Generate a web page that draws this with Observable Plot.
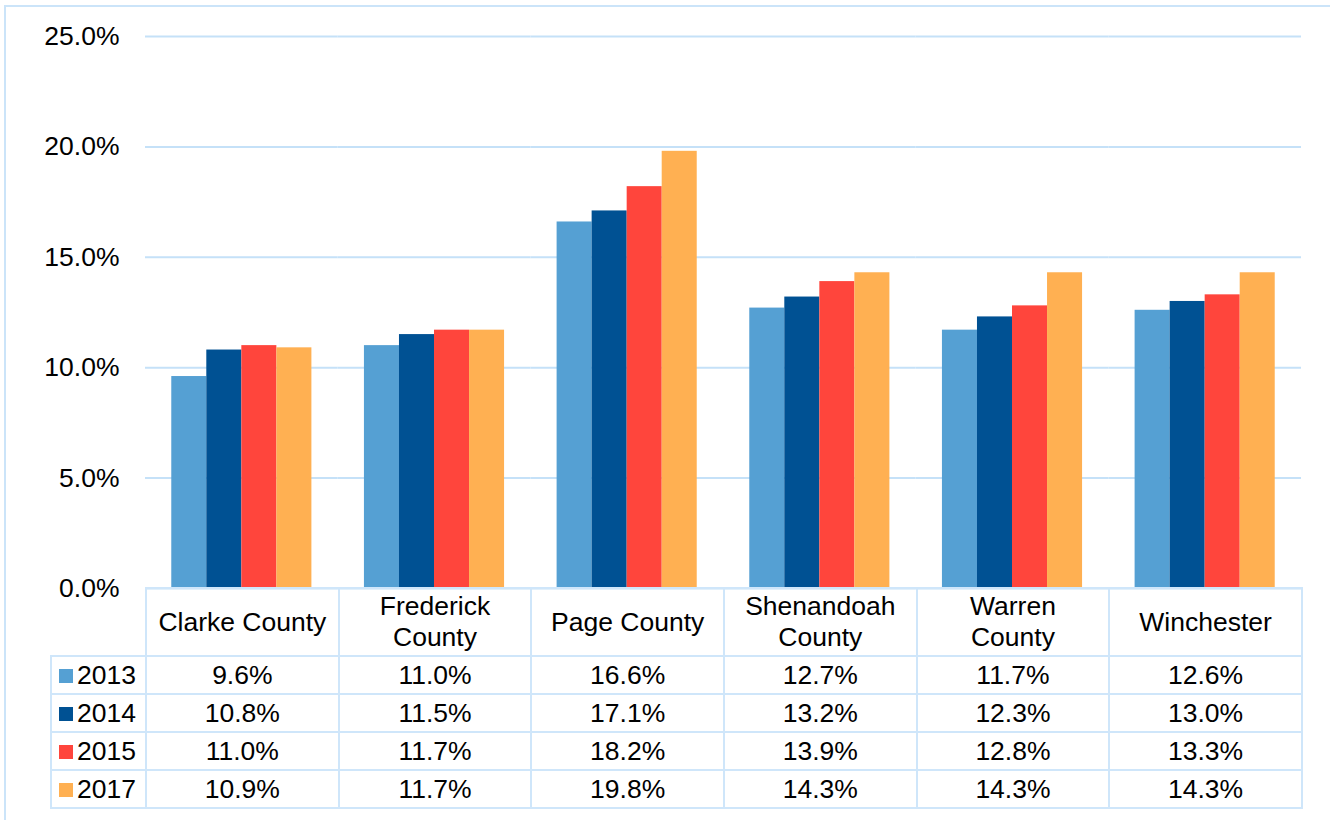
<!DOCTYPE html>
<html>
<head>
<meta charset="utf-8">
<script src="https://cdn.jsdelivr.net/npm/d3@7"></script>
<script src="https://cdn.jsdelivr.net/npm/@observablehq/plot@0.6"></script>
<style>
  html, body { margin: 0; padding: 0; background: #fff; }
  #wrap { position: relative; width: 1330px; height: 820px; overflow: hidden; font-family: "Liberation Sans", Arial, sans-serif; }
  #frame { position: absolute; left: 4px; top: 5px; width: 1400px; height: 900px; border-left: 2px solid #cbe4f9; border-top: 2px solid #cbe4f9; }
  #chart { position: absolute; left: 0; top: 0; }
  #tbl { position: absolute; border-collapse: collapse; table-layout: fixed; font-size: 26.5px; color: #000; }
  #tbl td { border: 2px solid #cfe6fa; text-align: center; padding: 0; }
  #tbl td.corner { border-top: none; border-left: none; }
  #tbl td.leg { text-align: left; padding-left: 7px; white-space: nowrap; }
  #tbl .sw { display: inline-block; width: 14px; height: 14px; margin-right: 4px; vertical-align: 1px; }
  #tbl tr.head td { height: 66px; line-height: 31px; }
  #tbl tr.row td { height: 36px; line-height: 30px; }
</style>
</head>
<body>
<div id="wrap">
  <div id="frame"></div>
  <div id="chart"></div>
  <table id="tbl"></table>
</div>
<script>
const counties = ["Clarke County", "Frederick County", "Page County", "Shenandoah County", "Warren County", "Winchester"];
const countyLabels = [["Clarke County"], ["Frederick", "County"], ["Page County"], ["Shenandoah", "County"], ["Warren", "County"], ["Winchester"]];
const years = ["2013", "2014", "2015", "2017"];
const colors = ["#55a0d3", "#005193", "#ff453c", "#ffb052"];
const values2013 = [9.6, 11.0, 16.6, 12.7, 11.7, 12.6];
const values2014 = [10.8, 11.5, 17.1, 13.2, 12.3, 13.0];
const values2015 = [11.0, 11.7, 18.2, 13.9, 12.8, 13.3];
const values2017 = [10.9, 11.7, 19.8, 14.3, 14.3, 14.3];
const yTicks = [0, 5, 10, 15, 20, 25];

const series = [values2013, values2014, values2015, values2017];
const data = [];
years.forEach((yr, i) => counties.forEach((c, j) => data.push({county: c, year: yr, value: series[i][j]})));

const W = 1330, mLeft = 145, mRight = 29, mTop = 36, mBottom = 32, H = 620;
const zeroY = H - mBottom; // 588
const fmt = d => d.toFixed(1) + "%";

const chart = Plot.plot({
  width: W,
  height: H,
  marginLeft: mLeft,
  marginRight: mRight,
  marginTop: mTop,
  marginBottom: mBottom,
  style: {fontFamily: "'Liberation Sans', Arial, sans-serif", fontSize: "26px", color: "#000", background: "transparent"},
  fx: {domain: counties, padding: 0, round: false, axis: null},
  x: {domain: years, paddingInner: 0, paddingOuter: 0.75, round: false, axis: null},
  y: {domain: [0, 25], ticks: yTicks, tickFormat: fmt, tickSize: 0, tickPadding: 26, label: null},
  color: {domain: years, range: colors},
  marks: [
    Plot.gridY(yTicks, {stroke: "#c5e1f8", strokeOpacity: 1, strokeWidth: 2}),
    Plot.barY(data, {fx: "county", x: "year", y: "value", fill: "year"}),
    Plot.axisY({ticks: yTicks, tickFormat: fmt, tickSize: 0, tickPadding: 26, fontSize: 26.5, fill: "#000", label: null})
  ]
});
document.getElementById("chart").appendChild(chart);

// Data table aligned with the fx band scale
const fxScale = chart.scale("fx");
const bw = fxScale.bandwidth;
const left0 = fxScale.apply(counties[0]);
const legW = 95;
const tbl = document.getElementById("tbl");
tbl.style.left = (left0 - legW) + "px";
tbl.style.top = (zeroY - 1) + "px";
tbl.style.width = (legW + bw * counties.length) + "px";

const colgroup = document.createElement("colgroup");
const c0 = document.createElement("col"); c0.style.width = legW + "px"; colgroup.appendChild(c0);
counties.forEach(() => { const c = document.createElement("col"); c.style.width = bw + "px"; colgroup.appendChild(c); });
tbl.appendChild(colgroup);

const head = document.createElement("tr"); head.className = "head";
const corner = document.createElement("td"); corner.className = "corner"; head.appendChild(corner);
countyLabels.forEach(lines => { const td = document.createElement("td"); td.innerHTML = lines.join("<br>"); head.appendChild(td); });
tbl.appendChild(head);

years.forEach((yr, i) => {
  const tr = document.createElement("tr"); tr.className = "row";
  const lg = document.createElement("td"); lg.className = "leg";
  lg.innerHTML = `<span class="sw" style="background:${colors[i]}"></span>${yr}`;
  tr.appendChild(lg);
  series[i].forEach(v => { const td = document.createElement("td"); td.textContent = fmt(v); tr.appendChild(td); });
  tbl.appendChild(tr);
});
</script>
</body>
</html>
